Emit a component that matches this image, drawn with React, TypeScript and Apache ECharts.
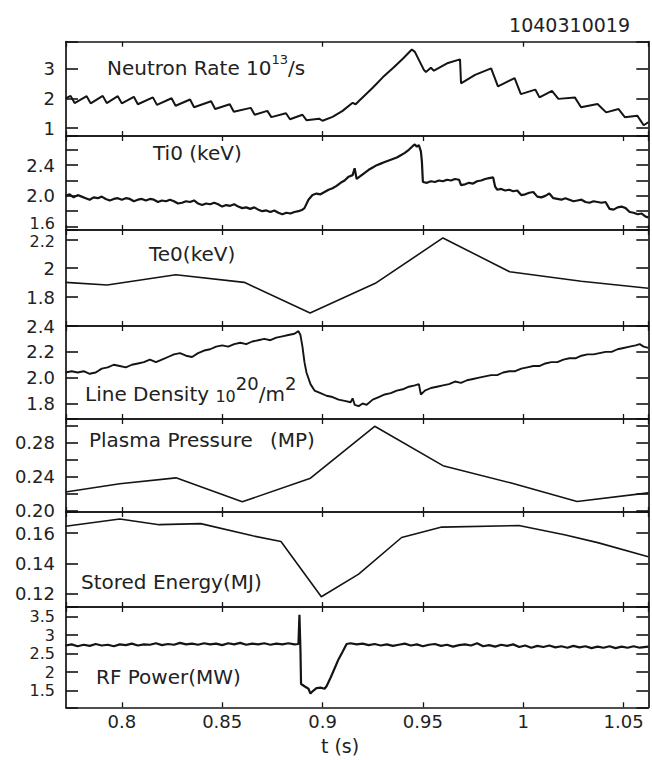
import React, { useEffect, useRef } from "react";
import * as echarts from "echarts";

// ---------------- DATA ----------------
const shotNumber = "1040310019";
const xAxisTitle = "t (s)";
const xTickLabels = ["0.8", "0.85", "0.9", "0.95", "1", "1.05"];
const timeRange = [0.7722, 1.0623];

const neutronRate: [number, number][] = [
  [0.772, 2.0], [0.7745, 2.08], [0.7765, 1.84], [0.7825, 2.07], [0.7845, 1.83],
  [0.7905, 2.08], [0.7925, 1.84], [0.798, 2.07], [0.8, 1.83], [0.806, 2.05],
  [0.808, 1.8], [0.8155, 2.03], [0.8175, 1.78], [0.8248, 2.0], [0.8268, 1.75],
  [0.834, 1.96], [0.836, 1.7], [0.8445, 1.9], [0.8465, 1.64], [0.8538, 1.8],
  [0.8558, 1.55], [0.8642, 1.68], [0.8662, 1.45], [0.8725, 1.58], [0.8745, 1.37],
  [0.8818, 1.5], [0.8838, 1.3], [0.89, 1.45], [0.892, 1.27], [0.8983, 1.32],
  [0.9, 1.25], [0.905, 1.38], [0.91, 1.58], [0.915, 1.85], [0.9165, 1.8],
  [0.918, 1.9], [0.925, 2.35], [0.93, 2.7], [0.935, 3.0], [0.94, 3.32],
  [0.9445, 3.63], [0.946, 3.55], [0.9505, 2.95], [0.9515, 2.88], [0.954, 3.02],
  [0.9555, 2.92], [0.9625, 3.18], [0.9685, 3.3], [0.969, 2.5], [0.976, 2.78],
  [0.984, 3.0], [0.9874, 2.4], [0.9957, 2.67], [0.9988, 2.14], [1.006, 2.29],
  [1.0081, 2.03], [1.0143, 2.25], [1.0175, 1.98], [1.0257, 2.03], [1.0288, 1.7],
  [1.037, 1.81], [1.0413, 1.53], [1.0475, 1.64], [1.0506, 1.37], [1.0568, 1.42],
  [1.06, 1.1], [1.0623, 1.2],
];
const neutronTicks = ["1", "2", "3"];

const ionTemp: [number, number][] = [
  [0.772, 2.0], [0.774, 2.02], [0.776, 1.98], [0.778, 2.01], [0.78, 1.99], [0.782, 1.97],
  [0.784, 1.95], [0.786, 1.98], [0.788, 1.97], [0.79, 1.99], [0.792, 1.96], [0.794, 1.94],
  [0.796, 1.96], [0.798, 1.97], [0.8, 1.95], [0.802, 1.97], [0.804, 1.96], [0.806, 1.93],
  [0.808, 1.95], [0.81, 1.96], [0.812, 1.94], [0.814, 1.96], [0.816, 1.95], [0.818, 1.92],
  [0.82, 1.94], [0.822, 1.93], [0.824, 1.95], [0.826, 1.93], [0.828, 1.9], [0.83, 1.91],
  [0.832, 1.93], [0.834, 1.92], [0.836, 1.94], [0.838, 1.9], [0.84, 1.88], [0.842, 1.9],
  [0.844, 1.89], [0.846, 1.91], [0.848, 1.89], [0.85, 1.86], [0.852, 1.88], [0.854, 1.87],
  [0.856, 1.89], [0.858, 1.86], [0.86, 1.84], [0.862, 1.85], [0.864, 1.83], [0.866, 1.85],
  [0.868, 1.82], [0.87, 1.8], [0.872, 1.81], [0.874, 1.79], [0.876, 1.81], [0.878, 1.78],
  [0.88, 1.76], [0.882, 1.78], [0.884, 1.77], [0.886, 1.79], [0.888, 1.8], [0.89, 1.82],
  [0.891, 1.84], [0.893, 1.95], [0.895, 2.01], [0.897, 2.03], [0.899, 2.02], [0.901, 2.05],
  [0.903, 2.08], [0.905, 2.1], [0.907, 2.13], [0.909, 2.17], [0.911, 2.2], [0.913, 2.25],
  [0.915, 2.27], [0.916, 2.36], [0.917, 2.22], [0.919, 2.26], [0.921, 2.3], [0.923, 2.34],
  [0.925, 2.37], [0.927, 2.4], [0.929, 2.42], [0.931, 2.44], [0.933, 2.46], [0.935, 2.48],
  [0.937, 2.5], [0.939, 2.53], [0.941, 2.56], [0.943, 2.6], [0.945, 2.65], [0.946, 2.67],
  [0.947, 2.64], [0.948, 2.66], [0.949, 2.58], [0.9495, 2.45], [0.95, 2.18], [0.952, 2.17],
  [0.954, 2.19], [0.956, 2.18], [0.958, 2.2], [0.96, 2.19], [0.962, 2.21], [0.964, 2.2],
  [0.966, 2.22], [0.968, 2.21], [0.969, 2.14], [0.971, 2.15], [0.973, 2.17], [0.975, 2.16],
  [0.977, 2.19], [0.979, 2.2], [0.981, 2.22], [0.983, 2.23], [0.985, 2.24], [0.986, 2.12],
  [0.987, 2.08], [0.989, 2.09], [0.991, 2.07], [0.993, 2.08], [0.995, 2.06], [0.997, 2.07],
  [0.999, 2.01], [1.001, 2.02], [1.003, 2.04], [1.005, 2.05], [1.007, 1.99], [1.009, 1.98],
  [1.011, 2.0], [1.013, 2.03], [1.015, 1.97], [1.017, 1.96], [1.019, 1.95], [1.021, 1.97],
  [1.023, 1.95], [1.025, 1.93], [1.027, 1.94], [1.029, 1.95], [1.031, 1.92], [1.033, 1.91],
  [1.035, 1.93], [1.037, 1.92], [1.039, 1.91], [1.041, 1.92], [1.043, 1.83], [1.045, 1.82],
  [1.047, 1.85], [1.049, 1.86], [1.051, 1.84], [1.053, 1.79], [1.055, 1.78], [1.057, 1.76],
  [1.059, 1.77], [1.061, 1.73], [1.0623, 1.72],
];
const ionTempTicks = ["1.6", "2.0", "2.4"];

const electronTemp: [number, number][] = [
  [0.772, 1.902], [0.7927, 1.884], [0.8269, 1.955], [0.861, 1.902], [0.8938, 1.69],
  [0.9263, 1.895], [0.96, 2.209], [0.9932, 1.975], [1.0289, 1.909], [1.0623, 1.861],
];
const electronTempTicks = ["1.8", "2", "2.2"];

const lineDensity: [number, number][] = [
  [0.772, 2.04], [0.775, 2.05], [0.778, 2.04], [0.781, 2.05], [0.784, 2.03], [0.787, 2.04],
  [0.79, 2.07], [0.793, 2.08], [0.796, 2.1], [0.799, 2.09], [0.802, 2.08], [0.805, 2.1],
  [0.808, 2.11], [0.811, 2.12], [0.814, 2.14], [0.817, 2.12], [0.82, 2.14], [0.823, 2.16],
  [0.826, 2.18], [0.829, 2.19], [0.832, 2.17], [0.835, 2.16], [0.838, 2.19], [0.841, 2.21],
  [0.844, 2.22], [0.847, 2.24], [0.85, 2.25], [0.853, 2.24], [0.856, 2.26], [0.859, 2.27],
  [0.862, 2.26], [0.865, 2.28], [0.868, 2.29], [0.871, 2.3], [0.874, 2.29], [0.877, 2.31],
  [0.88, 2.32], [0.883, 2.33], [0.886, 2.34], [0.888, 2.36], [0.889, 2.33], [0.89, 2.24],
  [0.891, 2.12], [0.892, 2.04], [0.894, 1.95], [0.896, 1.9], [0.899, 1.88], [0.902, 1.86],
  [0.905, 1.85], [0.908, 1.83], [0.911, 1.82], [0.914, 1.81], [0.915, 1.84], [0.916, 1.79],
  [0.918, 1.78], [0.92, 1.8], [0.922, 1.79], [0.925, 1.83], [0.928, 1.85], [0.931, 1.87],
  [0.934, 1.88], [0.937, 1.9], [0.94, 1.91], [0.943, 1.93], [0.946, 1.94], [0.948, 1.95],
  [0.949, 1.87], [0.951, 1.9], [0.954, 1.92], [0.957, 1.93], [0.96, 1.94], [0.963, 1.95],
  [0.966, 1.97], [0.969, 1.96], [0.972, 1.98], [0.975, 1.99], [0.978, 2.0], [0.981, 2.01],
  [0.984, 2.02], [0.987, 2.02], [0.99, 2.04], [0.993, 2.05], [0.996, 2.05], [0.999, 2.07],
  [1.002, 2.08], [1.005, 2.09], [1.008, 2.09], [1.011, 2.11], [1.014, 2.12], [1.017, 2.12],
  [1.02, 2.14], [1.023, 2.15], [1.026, 2.15], [1.029, 2.17], [1.032, 2.18], [1.035, 2.18],
  [1.038, 2.19], [1.041, 2.2], [1.044, 2.2], [1.047, 2.22], [1.05, 2.23], [1.053, 2.24],
  [1.056, 2.25], [1.058, 2.26], [1.06, 2.24], [1.0623, 2.23],
];
const lineDensityTicks = ["1.8", "2.0", "2.2", "2.4"];

const plasmaPressure: [number, number][] = [
  [0.772, 0.2217], [0.799, 0.2315], [0.827, 0.2384], [0.86, 0.21], [0.894, 0.238],
  [0.926, 0.2994], [0.96, 0.2528], [0.9936, 0.2325], [1.0268, 0.2104], [1.0623, 0.2206],
];
const plasmaPressureTicks = ["0.20", "0.24", "0.28"];

const storedEnergy: [number, number][] = [
  [0.772, 0.1645], [0.799, 0.1694], [0.8186, 0.1656], [0.8393, 0.1663], [0.8652, 0.1582],
  [0.8793, 0.1544], [0.8994, 0.1178], [0.918, 0.1328], [0.9394, 0.1571], [0.9594, 0.164],
  [0.9978, 0.165], [1.0205, 0.1589], [1.0371, 0.1537], [1.0623, 0.1443],
];
const storedEnergyTicks = ["0.12", "0.14", "0.16"];

const rfPower: [number, number][] = [
  [0.772, 2.72], [0.775, 2.75], [0.778, 2.7], [0.781, 2.74], [0.784, 2.71], [0.787, 2.76],
  [0.79, 2.72], [0.793, 2.74], [0.796, 2.7], [0.799, 2.75], [0.802, 2.73], [0.805, 2.77],
  [0.808, 2.72], [0.811, 2.75], [0.814, 2.74], [0.817, 2.78], [0.82, 2.73], [0.823, 2.76],
  [0.826, 2.74], [0.829, 2.79], [0.832, 2.75], [0.835, 2.77], [0.838, 2.74], [0.841, 2.78],
  [0.844, 2.75], [0.847, 2.77], [0.85, 2.73], [0.853, 2.78], [0.856, 2.75], [0.859, 2.79],
  [0.862, 2.74], [0.865, 2.77], [0.868, 2.75], [0.871, 2.78], [0.874, 2.74], [0.877, 2.77],
  [0.88, 2.75], [0.883, 2.78], [0.886, 2.75], [0.888, 2.76], [0.8885, 3.55], [0.889, 2.6],
  [0.8893, 1.68], [0.891, 1.62], [0.893, 1.55], [0.894, 1.42], [0.895, 1.48], [0.897, 1.57],
  [0.899, 1.58], [0.901, 1.55], [0.902, 1.62], [0.904, 1.85], [0.906, 2.1], [0.908, 2.35],
  [0.91, 2.55], [0.912, 2.76], [0.914, 2.78], [0.917, 2.75], [0.92, 2.77], [0.923, 2.73],
  [0.926, 2.76], [0.929, 2.72], [0.932, 2.75], [0.935, 2.71], [0.938, 2.74], [0.941, 2.77],
  [0.944, 2.72], [0.947, 2.75], [0.95, 2.7], [0.953, 2.74], [0.956, 2.76], [0.959, 2.71],
  [0.962, 2.74], [0.965, 2.69], [0.968, 2.73], [0.971, 2.75], [0.974, 2.72], [0.977, 2.78],
  [0.98, 2.7], [0.983, 2.73], [0.986, 2.69], [0.989, 2.74], [0.992, 2.71], [0.995, 2.75],
  [0.998, 2.68], [1.001, 2.72], [1.004, 2.66], [1.007, 2.71], [1.01, 2.68], [1.013, 2.72],
  [1.016, 2.67], [1.019, 2.7], [1.022, 2.66], [1.025, 2.71], [1.028, 2.67], [1.031, 2.7],
  [1.034, 2.65], [1.037, 2.69], [1.04, 2.66], [1.043, 2.7], [1.046, 2.65], [1.049, 2.69],
  [1.052, 2.66], [1.055, 2.7], [1.058, 2.66], [1.0623, 2.69],
];
const rfPowerTicks = ["1.5", "2", "2.5", "3", "3.5"];

// ---------------- LAYOUT ----------------
const FONT = '"DejaVu Sans", "Liberation Sans", sans-serif';
const INK = "#141414";
const TEXT = "#222";
const LEFT = 66;
const RIGHT = 648.3;
const EDGES = [41.7, 136, 230, 326, 419, 512, 607, 707.3];

type Part = { t: string; size: number; dy: number };
type Title = { x: number; y: number; parts: Part[] };

// nudge: label text -> "up" | "down" (to keep stacked labels of adjacent panels apart)
const panels = [
  { data: neutronRate, range: [0.74, 3.89], split: 3, ticks: neutronTicks, xSplit: 3, width: 2, labelSize: 18, nudge: {} as Record<string, string> },
  { data: ionTemp, range: [1.555, 2.78], split: 6, ticks: ionTempTicks, xSplit: 5, width: 2.2, labelSize: 18, nudge: { "1.6": "up" } as Record<string, string> },
  { data: electronTemp, range: [1.6, 2.264], split: 3, ticks: electronTempTicks, xSplit: 5, width: 1.6, labelSize: 18, nudge: { "2.2": "down" } as Record<string, string> },
  { data: lineDensity, range: [1.68, 2.4], split: 4, ticks: lineDensityTicks, xSplit: 5, width: 1.9, labelSize: 18, nudge: {} as Record<string, string> },
  { data: plasmaPressure, range: [0.198, 0.308], split: 5, ticks: plasmaPressureTicks, xSplit: 5, width: 1.6, labelSize: 18, nudge: {} as Record<string, string> },
  { data: storedEnergy, range: [0.111, 0.174], split: 3, ticks: storedEnergyTicks, xSplit: 5, width: 1.6, labelSize: 18, nudge: {} as Record<string, string> },
  { data: rfPower, range: [1.05, 3.76], split: 5, ticks: rfPowerTicks, xSplit: 5, width: 2.2, labelSize: 16, nudge: {} as Record<string, string> },
];

const titles: Title[] = [
  { x: 107, y: 68, parts: [{ t: "Neutron Rate 10", size: 20, dy: 0 }, { t: "13", size: 13, dy: -9 }, { t: "/s", size: 20, dy: 0 }] },
  { x: 153, y: 153, parts: [{ t: "Ti0 (keV)", size: 20, dy: 0 }] },
  { x: 149, y: 254, parts: [{ t: "Te0(keV)", size: 20, dy: 0 }] },
  {
    x: 85, y: 394, parts: [
      { t: "Line Density ", size: 20, dy: 0 }, { t: "10", size: 16, dy: 2 }, { t: "20", size: 18, dy: -11 },
      { t: "/m", size: 20, dy: 0 }, { t: "2", size: 18, dy: -11 },
    ],
  },
  { x: 89, y: 440, parts: [{ t: "Plasma Pressure", size: 20, dy: 0 }] },
  { x: 270, y: 440, parts: [{ t: "(MP)", size: 20, dy: 0 }] },
  { x: 81, y: 582, parts: [{ t: "Stored Energy(MJ)", size: 20, dy: 0 }] },
  { x: 96, y: 677, parts: [{ t: "RF Power(MW)", size: 20, dy: 0 }] },
];

function pickLabel(list: string[], nudge: Record<string, string> = {}) {
  return (v: number) => {
    const hit = list.find((l) => Math.abs(parseFloat(l) - v) < 1e-7);
    if (hit === undefined) return "";
    const n = nudge[hit];
    return n ? `{${n}|${hit}}` : hit;
  };
}

function measure(ctx: CanvasRenderingContext2D | null, text: string, size: number) {
  if (!ctx) return text.length * size * 0.6;
  ctx.font = `${size}px ${FONT}`;
  return ctx.measureText(text).width;
}

export default function App() {
  const ref = useRef<HTMLDivElement>(null);

  useEffect(() => {
    if (!ref.current) return;
    const chart = echarts.init(ref.current, null, { renderer: "svg" });
    const ctx = document.createElement("canvas").getContext("2d");

    const grid: any[] = [];
    const xAxis: any[] = [];
    const yAxis: any[] = [];
    const series: any[] = [];
    const line = { lineStyle: { color: INK, width: 1.7 } };

    panels.forEach((p, i) => {
      grid.push({ left: LEFT, width: RIGHT - LEFT, top: EDGES[i], height: EDGES[i + 1] - EDGES[i] });
      const last = i === panels.length - 1;
      const xBase = {
        gridIndex: i, type: "value", min: timeRange[0], max: timeRange[1], splitNumber: p.xSplit,
        axisLine: { show: true, onZero: false, ...line },
        axisTick: { show: true, inside: true, length: 5, lineStyle: { color: INK, width: 1.3 } },
        splitLine: { show: false },
      };
      xAxis.push({
        ...xBase, position: "bottom",
        axisLabel: {
          show: last, fontSize: 18, fontFamily: FONT, color: TEXT, margin: 5,
          formatter: pickLabel(xTickLabels), showMinLabel: false, showMaxLabel: false,
        },
      });
      xAxis.push({ ...xBase, position: "top", axisLabel: { show: false } });

      const yBase = {
        gridIndex: i, type: "value", min: p.range[0], max: p.range[1], splitNumber: p.split,
        axisLine: { show: true, onZero: false, ...line },
        axisTick: { show: true, inside: true, length: 12, lineStyle: { color: INK, width: 1.6 } },
        splitLine: { show: false },
      };
      const lh = p.labelSize - 3;
      const tok = { fontSize: p.labelSize, fontFamily: FONT, color: TEXT, lineHeight: lh };
      const small = { fontSize: 16, fontFamily: FONT, color: TEXT, lineHeight: 13 };
      yAxis.push({
        ...yBase, position: "left",
        axisLabel: {
          show: true, ...tok, margin: 11, formatter: pickLabel(p.ticks, p.nudge),
          rich: {
            up: { ...small, padding: [0, 0, 6, 0] },
            down: { ...small, padding: [5, 0, 0, 0] },
          },
        },
      });
      yAxis.push({ ...yBase, position: "right", axisLabel: { show: false } });

      series.push({
        type: "line", xAxisIndex: 2 * i, yAxisIndex: 2 * i, data: p.data,
        showSymbol: false, symbol: "none", clip: true,
        lineStyle: { color: INK, width: p.width }, emphasis: { disabled: true },
      });
    });

    const elements: any[] = [];
    titles.forEach((tt) => {
      let x = tt.x;
      tt.parts.forEach((pt) => {
        elements.push({
          type: "text", x, y: tt.y + pt.dy, z: 10,
          style: {
            text: pt.t, fill: TEXT, font: `${pt.size}px ${FONT}`,
            align: "left", verticalAlign: "middle", textAlign: "left", textVerticalAlign: "middle",
          },
        });
        x += measure(ctx, pt.t, pt.size);
      });
    });
    elements.push({
      type: "text", x: 630, y: 25, z: 10,
      style: { text: shotNumber, fill: TEXT, font: `19px ${FONT}`, align: "right", verticalAlign: "middle", textAlign: "right", textVerticalAlign: "middle" },
    });
    elements.push({
      type: "text", x: 340, y: 746, z: 10,
      style: { text: xAxisTitle, fill: TEXT, font: `19px ${FONT}`, align: "center", verticalAlign: "middle", textAlign: "center", textVerticalAlign: "middle" },
    });

    chart.setOption({
      animation: false,
      backgroundColor: "#fff",
      grid, xAxis, yAxis, series,
      graphic: { elements },
    });
    return () => chart.dispose();
  }, []);

  return <div ref={ref} style={{ position: "absolute", left: 0, top: 0, width: 652, height: 760 }} />;
}
